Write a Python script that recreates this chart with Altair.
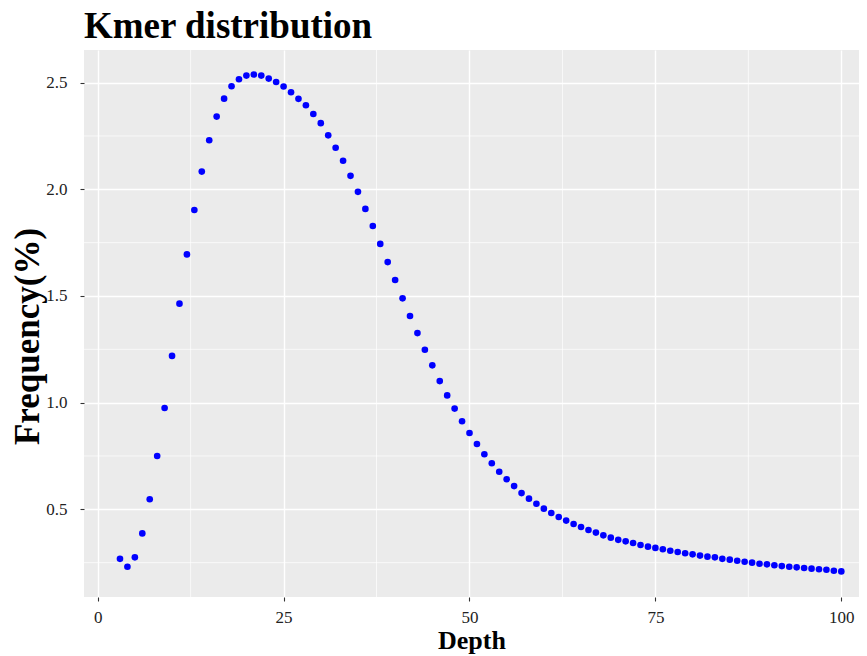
import altair as alt
import pandas as pd

depth = list(range(3, 101))
freq = [
    0.268, 0.231, 0.275, 0.387, 0.547, 0.750, 0.975, 1.219, 1.464, 1.695,
    1.903, 2.083, 2.230, 2.341, 2.425, 2.483, 2.516, 2.533, 2.538, 2.533,
    2.519, 2.503, 2.482, 2.455, 2.424, 2.394, 2.353, 2.310, 2.253, 2.195,
    2.134, 2.063, 1.988, 1.908, 1.828, 1.744, 1.659, 1.575, 1.489, 1.406,
    1.326, 1.248, 1.175, 1.101, 1.034, 0.972, 0.913, 0.858, 0.806, 0.758,
    0.716, 0.676, 0.641, 0.609, 0.576, 0.550, 0.526, 0.503, 0.483, 0.464,
    0.447, 0.431, 0.417, 0.403, 0.391, 0.378, 0.367, 0.357, 0.350, 0.342,
    0.333, 0.325, 0.319, 0.313, 0.306, 0.300, 0.294, 0.289, 0.283, 0.278,
    0.275, 0.268, 0.264, 0.259, 0.254, 0.250, 0.245, 0.242, 0.238, 0.234,
    0.231, 0.228, 0.225, 0.222, 0.219, 0.217, 0.212, 0.209,
]
x_major = [0, 25, 50, 75, 100]
y_major = [0.5, 1.0, 1.5, 2.0, 2.5]
x_minor = [12.5, 37.5, 62.5, 87.5]
y_minor = [0.25, 0.75, 1.25, 1.75, 2.25]

FONT = "Liberation Serif"

df = pd.DataFrame({"Depth": depth, "Frequency": freq})
xs = alt.Scale(domain=[-1.84, 102.38], nice=False, zero=False)
ys = alt.Scale(domain=[0.089, 2.653], nice=False, zero=False)

common_axis = dict(
    grid=True, gridColor="white", gridWidth=1.4, domain=False,
    tickColor="#333333", tickSize=4, tickWidth=1.1,
    labelFont=FONT, labelFontSize=17, labelColor="#222222",
    titleFont=FONT, titleFontWeight="bold", titleColor="black", zindex=0,
)
x_axis = alt.Axis(
    values=x_major, format="d", title="Depth", labelPadding=8,
    titleFontSize=26, titleY=51, titleBaseline="alphabetic", **common_axis)
y_axis = alt.Axis(
    values=y_major, format=".1f", title="Frequency(%)", labelPadding=13,
    titleFontSize=35, titleX=-57, titleY=286, titleAngle=-90,
    titleBaseline="middle", titleAlign="center", **common_axis)

xminor = alt.Chart(pd.DataFrame({"Depth": x_minor})).mark_rule(
    color="white", strokeWidth=0.7
).encode(x=alt.X("Depth:Q", scale=xs, axis=x_axis))

yminor = alt.Chart(pd.DataFrame({"Frequency": y_minor})).mark_rule(
    color="white", strokeWidth=0.7
).encode(y=alt.Y("Frequency:Q", scale=ys, axis=y_axis))

points = alt.Chart(df).mark_circle(size=44, color="#0000FF", opacity=1).encode(
    x=alt.X("Depth:Q", scale=xs, axis=x_axis),
    y=alt.Y("Frequency:Q", scale=ys, axis=y_axis),
)

chart = alt.layer(xminor, yminor, points).properties(
    width=775, height=547,
    autosize=alt.AutoSizeParams(type="none"),
    padding={"left": 76, "top": 42, "right": 0, "bottom": 58},
    title=alt.TitleParams(
        "Kmer distribution", anchor="start", frame="group", fontSize=37,
        font=FONT, fontWeight="bold", color="black", offset=4,
    ),
    background="white",
).configure_view(fill="#EBEBEB", stroke=None)

chart.save("out.html", embed_options={"renderer": "svg", "actions": False})
